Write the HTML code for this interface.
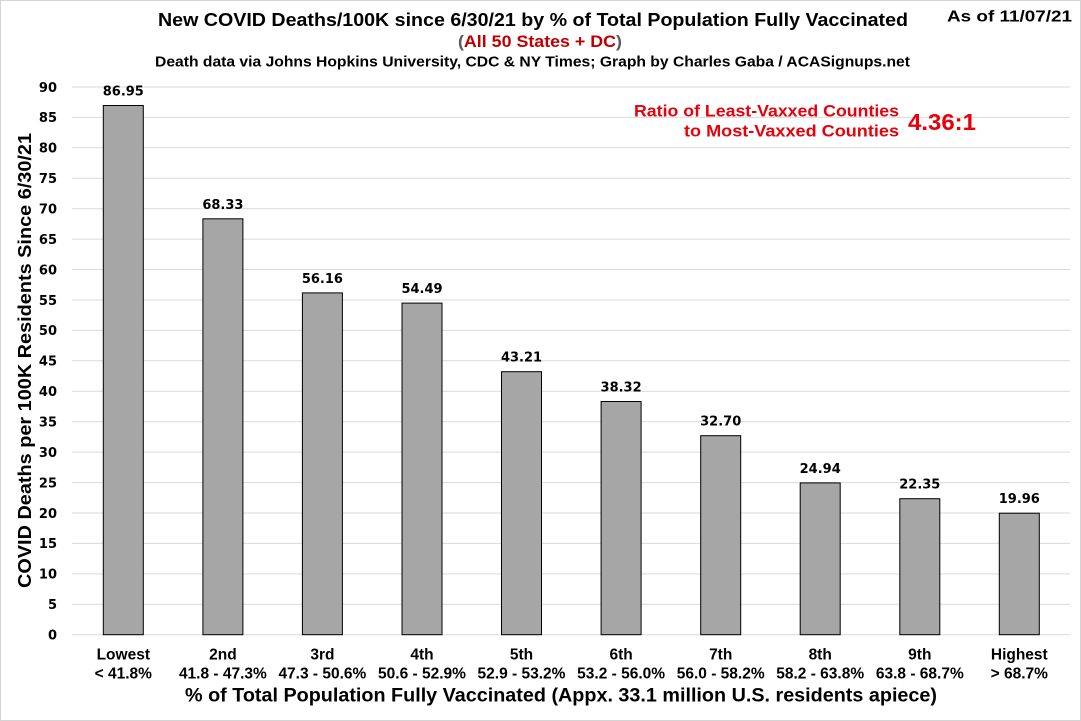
<!DOCTYPE html>
<html><head><meta charset="utf-8"><style>
html,body{margin:0;padding:0;background:#fff;}
svg{display:block;}
.t{font-family:"Liberation Sans",Arial,sans-serif;font-weight:bold;}
.d{font-family:"DejaVu Sans",Verdana,sans-serif;font-weight:bold;font-size:13px;fill:#000;}
</style></head><body>
<svg width="1081" height="721" viewBox="0 0 1081 721" xmlns="http://www.w3.org/2000/svg">
<rect x="0.5" y="0.5" width="1080" height="720" fill="#fff" stroke="#d4d4d4" stroke-width="1"/>
<!-- gridlines -->
<g stroke="#d9d9d9" stroke-width="1">
<line x1="72" x2="1070" y1="634.7" y2="634.7"/>
<line x1="72" x2="1070" y1="604.3" y2="604.3"/>
<line x1="72" x2="1070" y1="573.9" y2="573.9"/>
<line x1="72" x2="1070" y1="543.4" y2="543.4"/>
<line x1="72" x2="1070" y1="513.0" y2="513.0"/>
<line x1="72" x2="1070" y1="482.6" y2="482.6"/>
<line x1="72" x2="1070" y1="452.1" y2="452.1"/>
<line x1="72" x2="1070" y1="421.7" y2="421.7"/>
<line x1="72" x2="1070" y1="391.3" y2="391.3"/>
<line x1="72" x2="1070" y1="360.8" y2="360.8"/>
<line x1="72" x2="1070" y1="330.4" y2="330.4"/>
<line x1="72" x2="1070" y1="300.0" y2="300.0"/>
<line x1="72" x2="1070" y1="269.5" y2="269.5"/>
<line x1="72" x2="1070" y1="239.1" y2="239.1"/>
<line x1="72" x2="1070" y1="208.7" y2="208.7"/>
<line x1="72" x2="1070" y1="178.2" y2="178.2"/>
<line x1="72" x2="1070" y1="147.8" y2="147.8"/>
<line x1="72" x2="1070" y1="117.4" y2="117.4"/>
<line x1="72" x2="1070" y1="87.0" y2="87.0"/>
</g>
<!-- y tick labels -->
<g class="d" text-anchor="end">
<text x="57" y="639.5">0</text>
<text x="57" y="609.1">5</text>
<text x="57" y="578.7">10</text>
<text x="57" y="548.2">15</text>
<text x="57" y="517.8">20</text>
<text x="57" y="487.4">25</text>
<text x="57" y="456.9">30</text>
<text x="57" y="426.5">35</text>
<text x="57" y="396.1">40</text>
<text x="57" y="365.6">45</text>
<text x="57" y="335.2">50</text>
<text x="57" y="304.8">55</text>
<text x="57" y="274.3">60</text>
<text x="57" y="243.9">65</text>
<text x="57" y="213.5">70</text>
<text x="57" y="183.0">75</text>
<text x="57" y="152.6">80</text>
<text x="57" y="122.2">85</text>
<text x="57" y="91.8">90</text>
</g>
<!-- bars -->
<g fill="#a6a6a6" stroke="#000" stroke-width="1">
<rect x="103.3" y="105.5" width="40" height="529.2"/>
<rect x="202.9" y="218.8" width="40" height="415.9"/>
<rect x="302.4" y="292.9" width="40" height="341.8"/>
<rect x="402.0" y="303.1" width="40" height="331.6"/>
<rect x="501.5" y="371.7" width="40" height="263.0"/>
<rect x="601.1" y="401.5" width="40" height="233.2"/>
<rect x="700.7" y="435.7" width="40" height="199.0"/>
<rect x="800.2" y="482.9" width="40" height="151.8"/>
<rect x="899.8" y="498.7" width="40" height="136.0"/>
<rect x="999.3" y="513.2" width="40" height="121.5"/>
</g>
<!-- data labels -->
<g class="d" text-anchor="middle">
<text x="123.3" y="95.5">86.95</text>
<text x="222.9" y="208.8">68.33</text>
<text x="322.4" y="282.9">56.16</text>
<text x="422.0" y="293.1">54.49</text>
<text x="521.5" y="361.7">43.21</text>
<text x="621.1" y="391.5">38.32</text>
<text x="720.7" y="425.7">32.70</text>
<text x="820.2" y="472.9">24.94</text>
<text x="919.8" y="488.7">22.35</text>
<text x="1019.3" y="503.2">19.96</text>
</g>
<!-- category labels -->
<g class="t" font-size="15.5" text-anchor="middle" fill="#000">
<text x="123.3" y="659.3">Lowest</text><text x="123.3" y="678.3">&lt; 41.8%</text>
<text x="222.9" y="659.3">2nd</text><text x="222.9" y="678.3">41.8 - 47.3%</text>
<text x="322.4" y="659.3">3rd</text><text x="322.4" y="678.3">47.3 - 50.6%</text>
<text x="422.0" y="659.3">4th</text><text x="422.0" y="678.3">50.6 - 52.9%</text>
<text x="521.5" y="659.3">5th</text><text x="521.5" y="678.3">52.9 - 53.2%</text>
<text x="621.1" y="659.3">6th</text><text x="621.1" y="678.3">53.2 - 56.0%</text>
<text x="720.7" y="659.3">7th</text><text x="720.7" y="678.3">56.0 - 58.2%</text>
<text x="820.2" y="659.3">8th</text><text x="820.2" y="678.3">58.2 - 63.8%</text>
<text x="919.8" y="659.3">9th</text><text x="919.8" y="678.3">63.8 - 68.7%</text>
<text x="1019.3" y="659.3">Highest</text><text x="1019.3" y="678.3">&gt; 68.7%</text>
</g>
<!-- axis titles -->
<text class="t" x="185" y="701.7" font-size="19" textLength="752" lengthAdjust="spacingAndGlyphs" fill="#000">% of Total Population Fully Vaccinated (Appx. 33.1 million U.S. residents apiece)</text>
<text class="t" font-size="18" fill="#000" transform="translate(31,588) rotate(-90)" textLength="455" lengthAdjust="spacingAndGlyphs">COVID Deaths per 100K Residents Since 6/30/21</text>
<!-- titles -->
<text class="t" x="158" y="26" font-size="18" textLength="750" lengthAdjust="spacingAndGlyphs" fill="#000">New COVID Deaths/100K since 6/30/21 by % of Total Population Fully Vaccinated</text>
<text class="t" x="458" y="47" font-size="17" textLength="164" lengthAdjust="spacingAndGlyphs"><tspan fill="#595959">(</tspan><tspan fill="#c00000">All 50 States + DC</tspan><tspan fill="#595959">)</tspan></text>
<text class="t" x="155" y="66.7" font-size="14.5" textLength="755" lengthAdjust="spacingAndGlyphs" fill="#000">Death data via Johns Hopkins University, CDC &amp; NY Times; Graph by Charles Gaba / ACASignups.net</text>
<text class="t" x="947" y="21.7" font-size="16" textLength="125" lengthAdjust="spacingAndGlyphs" fill="#000">As of 11/07/21</text>
<!-- ratio annotation -->
<g class="t" fill="#e8000b">
<text x="634" y="116.5" font-size="17" textLength="265" lengthAdjust="spacingAndGlyphs">Ratio of Least-Vaxxed Counties</text>
<text x="684" y="136.5" font-size="17" textLength="215" lengthAdjust="spacingAndGlyphs">to Most-Vaxxed Counties</text>
<text x="908" y="130" font-size="23" textLength="68" lengthAdjust="spacingAndGlyphs">4.36:1</text>
</g>
</svg>
</body></html>
